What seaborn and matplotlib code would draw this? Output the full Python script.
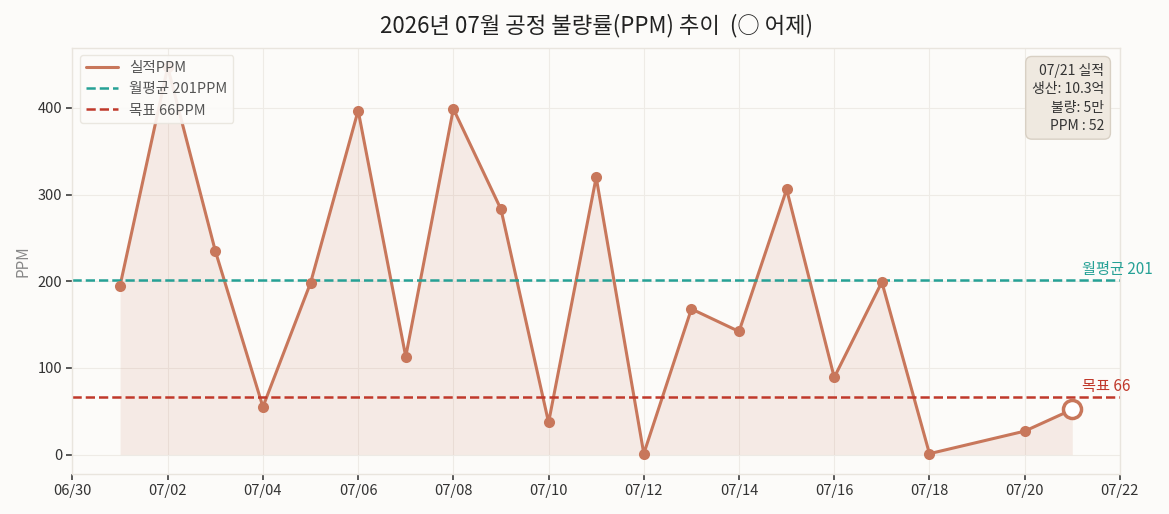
import pandas as pd
import matplotlib
matplotlib.use("Agg")
import matplotlib.pyplot as plt
import matplotlib.dates as mdates
import seaborn as sns

# --- data ---
dates = ["2026-07-01", "2026-07-02", "2026-07-03", "2026-07-04", "2026-07-05",
         "2026-07-06", "2026-07-07", "2026-07-08", "2026-07-09", "2026-07-10",
         "2026-07-11", "2026-07-12", "2026-07-13", "2026-07-14", "2026-07-15",
         "2026-07-16", "2026-07-17", "2026-07-18", "2026-07-20", "2026-07-21"]
ppm = [195, 447, 235, 55, 198, 397, 113, 399, 283, 37,
       320, 1, 168, 142, 306, 89, 199, 1, 27, 52]
month_avg = 201
target = 66
info_lines = ["07/21 실적", "생산: 10.3억", "불량: 5만", "PPM : 52"]

df = pd.DataFrame({"date": pd.to_datetime(dates), "ppm": ppm})

sns.set_theme(style="whitegrid")
plt.rcParams["font.family"] = ["Noto Sans CJK KR", "DejaVu Sans"]
plt.rcParams["axes.unicode_minus"] = False

line_c = "#c8775b"
avg_c = "#26a196"
tgt_c = "#c0392b"
bg = "#fcfbf9"
edge = "#e9e5de"

fig, ax = plt.subplots(figsize=(11.69, 5.14), dpi=100)
fig.patch.set_facecolor(bg)
ax.set_facecolor(bg)

# area + line + dots
ax.fill_between(df["date"], df["ppm"], 0, color=line_c, alpha=0.12, linewidth=0)
sns.lineplot(data=df, x="date", y="ppm", ax=ax, color=line_c, linewidth=2.2,
             label="실적PPM")
sns.scatterplot(data=df.iloc[:-1], x="date", y="ppm", ax=ax, color=line_c,
                s=64, linewidth=0, legend=False, zorder=4)
last = df.iloc[-1]
ax.plot([last["date"]], [last["ppm"]], marker="o", markersize=13,
        markerfacecolor="white", markeredgecolor=line_c, markeredgewidth=2.5,
        zorder=5)

ax.axhline(month_avg, color=avg_c, linestyle="--", linewidth=1.8,
           label=f"월평균 {month_avg}PPM")
ax.axhline(target, color=tgt_c, linestyle="--", linewidth=1.8,
           label=f"목표 {target}PPM")

ax.set_xlim(pd.Timestamp("2026-06-30"), pd.Timestamp("2026-07-22"))
ax.set_xticks(pd.date_range("2026-06-30", "2026-07-22", freq="2D"))
ax.xaxis.set_major_formatter(mdates.DateFormatter("%m/%d"))
ax.set_yticks([0, 100, 200, 300, 400])

lbl_x = last["date"] + pd.Timedelta(hours=5)
ax.text(lbl_x, month_avg + 3, f"월평균 {month_avg}", ha="left", va="bottom",
        color=avg_c, fontsize=11, clip_on=False)
ax.text(lbl_x, target + 3, f"목표 {target}", ha="left", va="bottom",
        color=tgt_c, fontsize=11, clip_on=False)

ax.text(0.985, 0.965, "\n".join(info_lines), transform=ax.transAxes,
        ha="right", va="top", fontsize=10, color="#333333", linespacing=1.4,
        bbox=dict(boxstyle="round,pad=0.45", facecolor="#efe9e0",
                  edgecolor="#d8d0c4", linewidth=1))

ax.set_title("2026년 07월 공정 불량률(PPM) 추이  (○ 어제)", fontsize=16,
             color="#222222", pad=11)
ax.set_xlabel("")
ax.set_ylabel("PPM", color="#888888", fontsize=11)
ax.tick_params(axis="both", labelsize=10.5, colors="#333333", length=4,
               color="#444444", left=True, bottom=True)
ax.grid(True, color="#eeebe6", linewidth=0.8)
for s in ax.spines.values():
    s.set_color(edge)
    s.set_linewidth(1)

leg = ax.legend(loc="upper left", fontsize=10.5, frameon=True, facecolor=bg,
                edgecolor=edge, framealpha=0.9, handlelength=2.2)
for t in leg.get_texts():
    t.set_color("#555555")

fig.subplots_adjust(left=0.062, right=0.958, top=0.907, bottom=0.078)
fig.savefig("out.png", dpi=100, facecolor=bg)
